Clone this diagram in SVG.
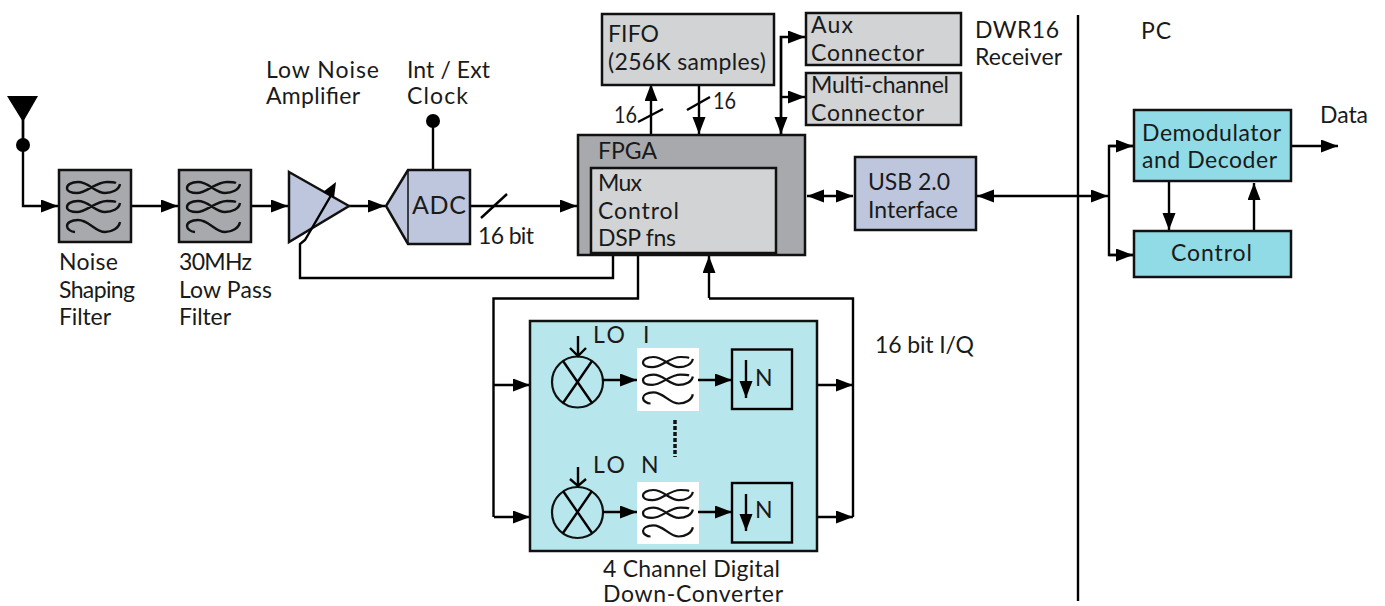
<svg xmlns="http://www.w3.org/2000/svg" width="1385" height="606" viewBox="0 0 1385 606">
<style>
text{font-family:"Lato","Liberation Sans",sans-serif;font-size:23px;fill:#1a1a1a}
.b{stroke:#111;stroke-width:2.5}
.l{fill:none;stroke:#000;stroke-width:2.4}
.gr{fill:#d1d3d4}.dk{fill:#a7a9ac}.bl{fill:#bdc6dc}.cy{fill:#90dbe5}.lc{fill:#b7e7ec}
</style>
<defs>
<marker id="a" markerUnits="userSpaceOnUse" markerWidth="18" markerHeight="14" refX="17" refY="6.500" orient="auto-start-reverse"><path d="M0 0L17 6.500L0 13Z" fill="#000"/></marker>
<g id="waves" fill="none" stroke="#111" stroke-width="2.400">
<path id="w1" d="M53 2C52 8 45 11 38 11C28 11 22 0 11 0C4 0 0 3 0 6C0 9 4 11 10 11C20 11 28 0 40 0C44 0 47 0 49 1"/>
<path d="M53 21C52 27 45 30 38 30C28 30 22 19 11 19C4 19 0 22 0 25C0 28 4 30 10 30C20 30 28 19 40 19C44 19 47 19 49 20"/>
<path d="M53 40C52 46 45 50 38 50C28 50 22 38 11 38C4 38 0 41 0 44C0 47 4 50 8 50"/>
</g>
</defs>
<g id="connectors">
<path class="l" d="M23 115V206H58" marker-end="url(#a)"/>
<path class="l" d="M131 206H178" marker-end="url(#a)"/>
<path class="l" d="M251 206H288" marker-end="url(#a)"/>
<path class="l" d="M349 206H385" marker-end="url(#a)"/>
<path class="l" d="M470 206H577" marker-end="url(#a)"/>
<path class="l" d="M481 218L507 194"/>
<path class="l" d="M433 121V170"/>
<path class="l" d="M300 250V278H613V253"/>
<path class="l" d="M651 134V84" marker-end="url(#a)"/>
<path class="l" d="M699 86V134" marker-end="url(#a)"/>
<path class="l" d="M638 122L663 109M687 110L710 97"/>
<path class="l" d="M781 134V37H805" marker-end="url(#a)"/>
<path class="l" d="M781 36V134" marker-end="url(#a)"/>
<path class="l" d="M781 97H805" marker-end="url(#a)"/>
<path class="l" d="M807 196H853" marker-start="url(#a)" marker-end="url(#a)"/>
<path class="l" d="M977 196H1108" marker-start="url(#a)" marker-end="url(#a)"/>
<path class="l" d="M1133 146H1109V255H1133"/>
<path class="l" d="M1109 146H1133" marker-end="url(#a)"/>
<path class="l" d="M1109 255H1133" marker-end="url(#a)"/>
<path class="l" d="M1169 182V230" marker-end="url(#a)"/>
<path class="l" d="M1254 230V183" marker-end="url(#a)"/>
<path class="l" d="M1291 146H1338" marker-end="url(#a)"/>
<path class="l" d="M1078 15V601"/>
<path class="l" d="M638 253V298.500H493.500V517"/>
<path class="l" d="M494 385H530" marker-end="url(#a)"/>
<path class="l" d="M494 517H530" marker-end="url(#a)"/>
<path class="l" d="M709 298V256" marker-end="url(#a)"/>
<path class="l" d="M709 298.500H853V517"/>
<path class="l" d="M818 385H853" marker-end="url(#a)"/>
<path class="l" d="M818 517H853" marker-end="url(#a)"/>
</g>
<g id="antenna"><path d="M7 96H38L23 122Z" fill="#000"/><circle cx="23" cy="145" r="7" fill="#000"/><path class="l" d="M23 120V145"/></g>
<g id="clock"><circle cx="433" cy="121" r="7" fill="#000"/></g>
<g id="filter1"><rect class="b dk" x="59" y="170" width="72" height="72"/><use href="#waves" x="67" y="182"/></g>
<g id="filter2"><rect class="b dk" x="179" y="170" width="72" height="72"/><use href="#waves" x="187" y="182"/></g>
<g id="lna"><path class="b bl" d="M289 172L349 206L289 242Z"/><path class="l" d="M300 250V244L305 240L333 192"/><path d="M336 182L334 198L323 192Z" fill="#000"/></g>
<g id="adc"><path class="b bl" d="M408 170H470V244H408L386 206Z"/><path d="M408 170V244" fill="none" stroke="#111" stroke-width="1.500"/><text x="412" y="214" style="font-size:25px" textLength="54">ADC</text></g>
<g id="fpga"><rect class="b dk" x="578" y="135" width="227" height="120"/><text x="598" y="159" textLength="59">FPGA</text><rect class="b gr" x="591" y="168" width="185" height="85"/><text x="598" y="191" textLength="44">Mux</text><text x="598" y="219" textLength="81">Control</text><text x="598" y="246" textLength="78">DSP fns</text></g>
<g id="fifo"><rect class="b gr" x="602" y="14" width="172" height="71"/><text x="608" y="42" textLength="51">FIFO</text><text x="608" y="70" textLength="158">(256K samples)</text></g>
<g id="aux"><rect class="b gr" x="806" y="13" width="155" height="52"/><text x="811" y="33" textLength="42">Aux</text><text x="811" y="61" textLength="113">Connector</text></g>
<g id="multi"><rect class="b gr" x="806" y="73" width="155" height="52"/><text x="811" y="93" textLength="138">Multi-channel</text><text x="811" y="121" textLength="113">Connector</text></g>
<g id="usb"><rect class="b bl" x="855" y="157" width="121" height="73"/><text x="868" y="190" textLength="82">USB 2.0</text><text x="868" y="218" textLength="90">Interface</text></g>
<g id="demod"><rect class="b cy" x="1134" y="110" width="157" height="71"/><text x="1142" y="141" textLength="139">Demodulator</text><text x="1142" y="168" textLength="135">and Decoder</text></g>
<g id="control"><rect class="b cy" x="1134" y="231" width="157" height="46"/><text x="1171" y="261" textLength="81">Control</text></g>
<g id="ddc"><rect class="b lc" x="530" y="321" width="287" height="230"/>
<circle cx="577.500" cy="382" r="25.500" fill="none" stroke="#111" stroke-width="2.200"/><path class="l" d="M563 361L592 403M592 361L563 403"/>
<circle cx="577.500" cy="512.500" r="25.500" fill="none" stroke="#111" stroke-width="2.200"/><path class="l" d="M563 491L592 533M592 491L563 533"/>
<path class="l" d="M578 336V356M570 348L578 356L586 348"/><path class="l" d="M578 467V486M570 479L578 486L586 479"/>
<rect x="637" y="348" width="62" height="63" fill="#fff"/><use href="#waves" transform="translate(643,357) scale(.94,.93)"/>
<rect x="637" y="482" width="62" height="62" fill="#fff"/><use href="#waves" transform="translate(643,490) scale(.94,.93)"/>
<rect class="l" x="732" y="349.500" width="60" height="59.500"/><rect class="l" x="732" y="483" width="60" height="59.500"/>
<path class="l" d="M603 380H637" marker-end="url(#a)"/><path class="l" d="M603 512H637" marker-end="url(#a)"/>
<path class="l" d="M698 380H732" marker-end="url(#a)"/><path class="l" d="M698 512H732" marker-end="url(#a)"/>
<path class="l" d="M746 360V398" marker-end="url(#a)"/><path class="l" d="M746 494V531" marker-end="url(#a)"/>
<path d="M675 420V457" fill="none" stroke="#111" stroke-width="3.500" stroke-dasharray="4 2"/>
<text x="593" y="343" textLength="32">LO</text><text x="643" y="343">I</text><text x="593" y="473" textLength="32">LO</text><text x="641" y="473">N</text>
<text x="755" y="386">N</text><text x="755" y="518">N</text></g>
<g id="labels">
<text x="59" y="270" textLength="59">Noise</text><text x="59" y="298" textLength="76">Shaping</text><text x="59" y="325" textLength="52">Filter</text>
<text x="179" y="270" textLength="73">30MHz</text><text x="179" y="298" textLength="93">Low Pass</text><text x="179" y="325" textLength="52">Filter</text>
<text x="266" y="78" textLength="113">Low Noise</text><text x="266" y="104" textLength="94">Amplifier</text>
<text x="407" y="78" textLength="83">Int / Ext</text><text x="407" y="104" textLength="61">Clock</text>
<text x="478" y="244" textLength="56">16 bit</text>
<text x="614" y="123" textLength="23" lengthAdjust="spacingAndGlyphs">16</text><text x="713" y="109" textLength="23" lengthAdjust="spacingAndGlyphs">16</text>
<text x="975" y="38" textLength="84">DWR16</text><text x="975" y="65" textLength="87">Receiver</text>
<text x="1141" y="39" textLength="30">PC</text><text x="1320" y="123" textLength="48">Data</text>
<text x="875" y="353" textLength="99">16 bit I/Q</text>
<text x="603" y="577" textLength="177">4 Channel Digital</text><text x="603" y="602" textLength="180">Down-Converter</text>
</g>
</svg>
